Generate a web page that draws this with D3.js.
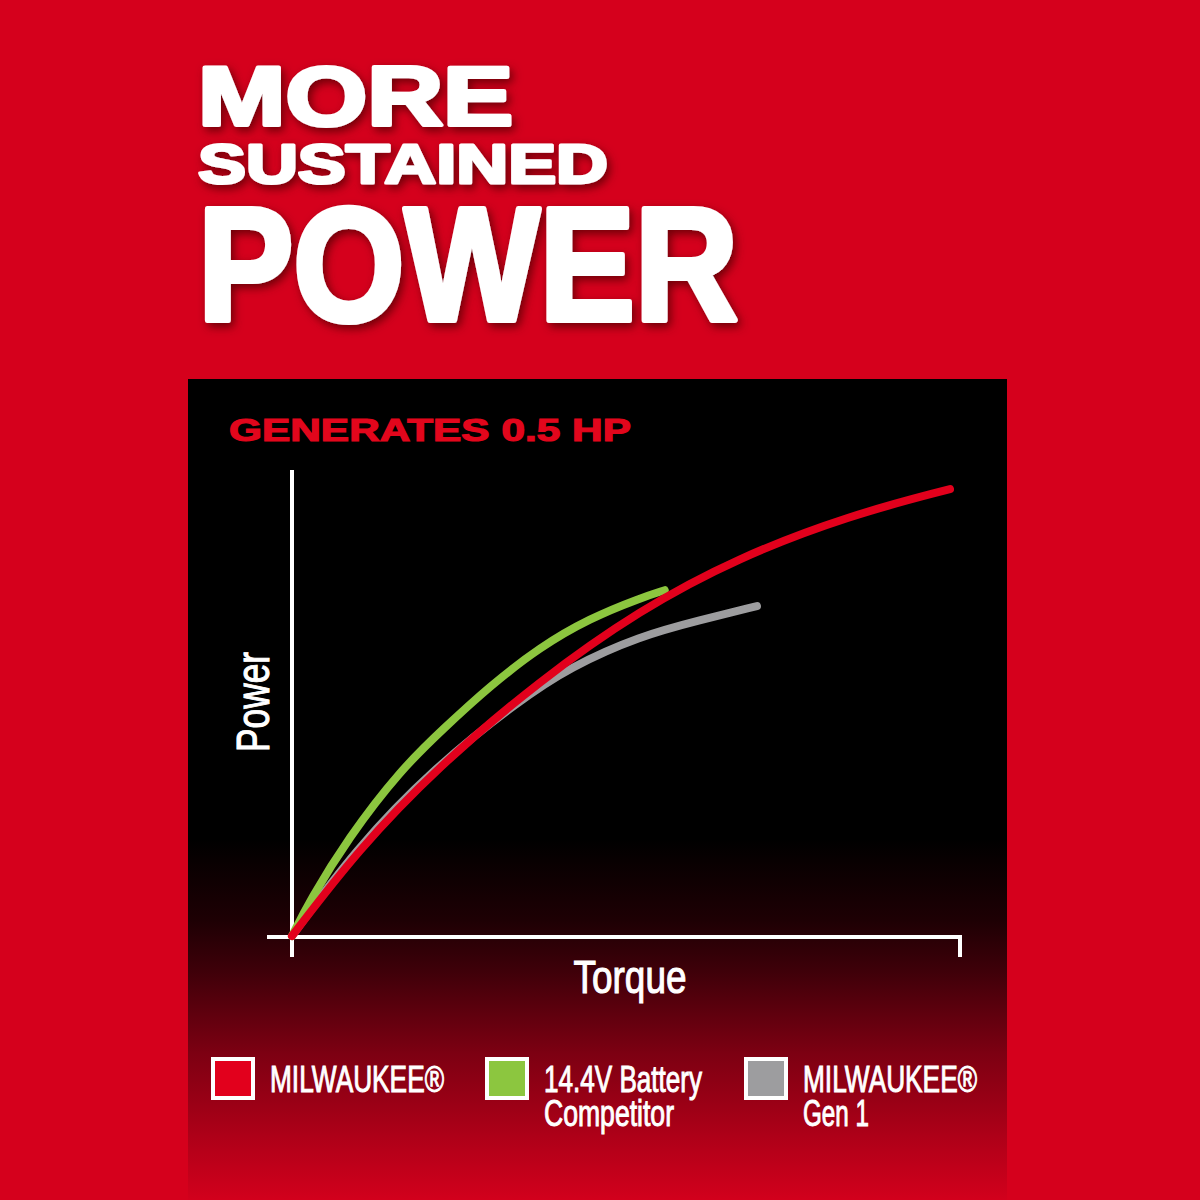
<!DOCTYPE html>
<html><head><meta charset="utf-8">
<script src="https://cdn.jsdelivr.net/npm/d3@7"></script>
<style>body{margin:0;background:#d5001c;overflow:hidden}</style>
</head><body><svg id="c" width="1200" height="1200"></svg>
<script>
// ---- data ----
const titleLines = ["MORE", "SUSTAINED", "POWER"];
const subtitle = "GENERATES 0.5 HP";
const xLabel = "Torque";
const yLabel = "Power";
const seriesNames = ["MILWAUKEE®", "14.4V Battery Competitor", "MILWAUKEE® Gen 1"];
const legendLines = [["MILWAUKEE®"], ["14.4V Battery", "Competitor"], ["MILWAUKEE®", "Gen 1"]];
const seriesColors = ["#e2001c", "#8cc63f", "#9d9d9f"];

const milwaukeeTorque = [0, 9.9, 21.7, 37.1, 52.1, 66.6, 83.5, 98.5];
const milwaukeePower  = [0, 18.5, 36.1, 54.9, 70.0, 81.1, 90.3, 95.9];
const competitorTorque = [0, 2.7, 8.4, 16.2, 22.9, 29.6, 37.1, 44.6, 52.1, 55.8];
const competitorPower  = [0, 7.7, 21.0, 35.6, 44.8, 53.6, 62.0, 68.2, 72.5, 74.2];
const gen1Torque = [0, 9.4, 21.4, 34.1, 41.6, 52.1, 61.1, 69.6];
const gen1Power  = [0, 18.5, 36.3, 50.6, 57.7, 64.4, 67.8, 70.8];

// ---- drawing ----
const svg = d3.select("#c");
const defs = svg.append("defs");
const f = defs.append("filter").attr("id", "sh").attr("x", "-10%").attr("y", "-20%").attr("width", "130%").attr("height", "150%");
f.append("feDropShadow").attr("dx", 3).attr("dy", 4).attr("stdDeviation", 5)
  .attr("flood-color", "#4a0006").attr("flood-opacity", 0.75);

const g = defs.append("linearGradient").attr("id", "pg").attr("x1", 0).attr("y1", 0).attr("x2", 0).attr("y2", 1);
[[0, "#000"], [0.56, "#000"], [0.66, "#1e0004"], [0.72, "#3e0009"], [0.82, "#7c0012"], [0.92, "#ad0018"], [1, "#d2001c"]]
  .forEach(([o, c]) => g.append("stop").attr("offset", o).attr("stop-color", c));

svg.append("rect").attr("width", 1200).attr("height", 1200).attr("fill", "#d5001c");
svg.append("rect").attr("x", 188).attr("y", 379).attr("width", 819).attr("height", 821).attr("fill", "url(#pg)");

// title
const titleSpec = [
  {y: 125, size: 84, len: 315, sw: 4},
  {y: 183, size: 56, len: 410, sw: 3},
  {y: 320, size: 162, len: 540, sw: 6}
];
svg.append("g").attr("filter", "url(#sh)").selectAll("text").data(titleLines).join("text")
  .attr("x", 198).attr("y", (d, i) => titleSpec[i].y)
  .attr("font-family", "Liberation Sans, Arial, sans-serif").attr("font-weight", "bold")
  .attr("font-size", (d, i) => titleSpec[i].size)
  .attr("textLength", (d, i) => titleSpec[i].len).attr("lengthAdjust", "spacingAndGlyphs")
  .attr("fill", "#fff").attr("stroke", "#fff").attr("stroke-width", (d, i) => titleSpec[i].sw)
  .attr("stroke-linejoin", "round")
  .text(d => d);

svg.append("text").attr("x", 229).attr("y", 441)
  .attr("font-family", "Liberation Sans, Arial, sans-serif").attr("font-weight", "bold")
  .attr("font-size", 32).attr("textLength", 402).attr("lengthAdjust", "spacingAndGlyphs")
  .attr("fill", "#e2061c").attr("stroke", "#e2061c").attr("stroke-width", 1.2)
  .text(subtitle);

// scales
const x = d3.scaleLinear().domain([0, 100]).range([292, 960]);
const y = d3.scaleLinear().domain([0, 100]).range([936, 470]);

// axes
const ax = svg.append("g").attr("stroke", "#fff").attr("stroke-width", 4).attr("fill", "none");
ax.append("line").attr("x1", x(0)).attr("x2", x(0)).attr("y1", y(100)).attr("y2", y(0) + 21);
ax.append("path").attr("d", `M${x(0) - 25},${y(0) + 1}H${x(100)}V${y(0) + 21}`);

// curves
const series = [
  {t: gen1Torque, p: gen1Power, c: seriesColors[2]},
  {t: competitorTorque, p: competitorPower, c: seriesColors[1]},
  {t: milwaukeeTorque, p: milwaukeePower, c: seriesColors[0]}
];
const line = d3.line().x(d => x(d[0])).y(d => y(d[1])).curve(d3.curveBasis);
svg.append("g").selectAll("path").data(series).join("path")
  .attr("d", s => line(s.t.map((v, i) => [v, s.p[i]])))
  .attr("fill", "none").attr("stroke", s => s.c).attr("stroke-width", 8)
  .attr("stroke-linecap", "round").attr("stroke-linejoin", "round");

// axis labels
svg.append("text").attr("transform", "translate(269,702) rotate(-90)")
  .attr("text-anchor", "middle").attr("font-family", "Liberation Sans, Arial, sans-serif")
  .attr("font-size", 46).attr("textLength", 100).attr("lengthAdjust", "spacingAndGlyphs")
  .attr("fill", "#fff").attr("stroke", "#fff").attr("stroke-width", 1.1)
  .text(yLabel);
svg.append("text").attr("x", 630).attr("y", 993)
  .attr("text-anchor", "middle").attr("font-family", "Liberation Sans, Arial, sans-serif")
  .attr("font-size", 47).attr("textLength", 113).attr("lengthAdjust", "spacingAndGlyphs")
  .attr("fill", "#fff").attr("stroke", "#fff").attr("stroke-width", 1.1)
  .text(xLabel);

// legend
const legX = [211, 485, 744];
const legLen = [[174], [158, 130], [174, 66]];
const lg = svg.append("g").selectAll("g").data(seriesNames).join("g")
  .attr("transform", (d, i) => `translate(${legX[i]},1057)`);
lg.append("rect").attr("x", 2).attr("y", 2).attr("width", 40).attr("height", 39)
  .attr("fill", (d, i) => seriesColors[i]).attr("stroke", "#fff").attr("stroke-width", 4);
lg.each(function(d, i) {
  d3.select(this).selectAll("text").data(legendLines[i]).join("text")
    .attr("x", 59).attr("y", (l, j) => 35 + j * 34)
    .attr("font-family", "Liberation Sans, Arial, sans-serif").attr("font-size", 37)
    .attr("textLength", (l, j) => legLen[i][j]).attr("lengthAdjust", "spacingAndGlyphs")
    .attr("fill", "#fff").attr("stroke", "#fff").attr("stroke-width", 1)
    .text(l => l);
});
</script></body></html>
